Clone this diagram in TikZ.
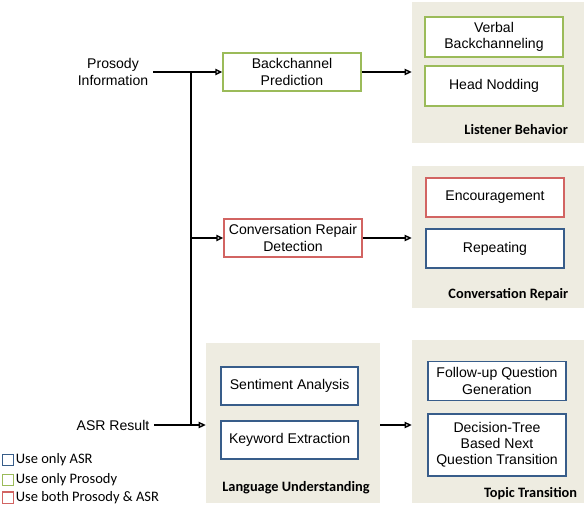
\documentclass[tikz,border=0pt]{standalone}
\usepackage{fontspec}
\setmainfont{Liberation Sans}
\newfontfamily\calibri{Carlito}
\usetikzlibrary{arrows.meta}
\definecolor{panelgray}{RGB}{238,236,225}
\definecolor{okgreen}{RGB}{155,187,89}
\definecolor{okblue}{RGB}{56,93,138}
\definecolor{okred}{RGB}{210,100,98}
\begin{document}
\begin{tikzpicture}[font=\fontsize{10}{11.5}\selectfont]
      \tikzstyle{arrow} = [line width=1pt,-{Triangle[open,length=5pt,width=4.5pt]}]
      \tikzstyle{plain} = [line width=1pt]
      \tikzstyle{panel} = [rectangle, fill=panelgray, draw=none]
      \tikzstyle{task} = [rectangle, minimum width=3.45cm, minimum height=0.95cm, text centered, align=center, fill=white, line width=1pt]
      \tikzstyle{prosodybox} = [task, draw=okgreen]
      \tikzstyle{asrbox} = [task, draw=okblue]
      \tikzstyle{bothbox} = [task, draw=okred]
      \tikzstyle{tag} = [font=\calibri\bfseries\fontsize{10.2}{11}\selectfont]
      \tikzstyle{key} = [rectangle, minimum size=0.28cm, inner sep=0pt, line width=0.8pt, fill=white]
      \useasboundingbox (0cm,0cm) rectangle (14.65cm,-12.75cm);
      % panels
      \path[] node[panel, minimum width=4.3cm, minimum height=3.525cm] (panel-LB) at (12.45cm,-1.8125cm) {};
      \path[] node[panel, minimum width=4.3cm, minimum height=3.55cm] (panel-CR) at (12.45cm,-5.925cm) {};
      \path[] node[panel, minimum width=4.35cm, minimum height=4cm] (panel-LU) at (7.325cm,-10.575cm) {};
      \path[] node[panel, minimum width=4.3cm, minimum height=4.075cm] (panel-TT) at (12.45cm,-10.5375cm) {};
      \node[tag, anchor=east] (tag-LB) at (14.32cm,-3.25cm) {Listener Behavior};
      \node[tag, anchor=east] (tag-CR) at (14.33cm,-7.375cm) {Conversation Repair};
      \node[tag] (tag-LU) at (7.4cm,-12.2cm) {Language Understanding};
      \node[tag, anchor=east] (tag-TT) at (14.55cm,-12.35cm) {Topic Transition};
      % inputs
      \node[align=center] (prosody) at (2.825cm,-1.8cm) {Prosody\\Information};
      \node (asr) at (2.825cm,-10.625cm) {ASR Result};
      \coordinate (s-top) at (4.775cm,-1.8cm);
      \coordinate (s-mid) at (4.775cm,-5.95cm);
      \coordinate (s-bot) at (4.775cm,-10.625cm);
      % tasks
      \path[] node[prosodybox] (BC) at (7.3cm,-1.8cm) {Backchannel\\Prediction};
      \path[] node[bothbox] (CRD) at (7.325cm,-5.95cm) {Conversation Repair\\Detection};
      \path[] node[prosodybox, minimum height=1cm] (VB) at (12.35cm,-0.925cm) {Verbal\\Backchanneling};
      \path[] node[prosodybox, minimum height=1cm] (HN) at (12.35cm,-2.15cm) {Head Nodding};
      \path[] node[bothbox, minimum height=0.975cm] (ENC) at (12.375cm,-4.94cm) {Encouragement};
      \path[] node[asrbox, minimum height=0.975cm] (REP) at (12.375cm,-6.21cm) {Repeating};
      \path[] node[asrbox, minimum width=3.425cm] (SA) at (7.24cm,-9.65cm) {Sentiment Analysis};
      \path[] node[asrbox, minimum width=3.425cm] (KE) at (7.24cm,-11cm) {Keyword Extraction};
      \path[] node[asrbox, minimum height=0.975cm] (FQ) at (12.425cm,-9.525cm) {Follow-up Question\\Generation};
      \path[] node[asrbox, minimum height=1.55cm] (DT) at (12.425cm,-11.125cm) {Decision-Tree\\Based Next\\Question Transition};
      % connectors
      \draw [arrow] (prosody.east) -- (BC.west);
      \draw [arrow] (asr.east) -- (asr.east -| panel-LU.west);
      \draw [plain] (s-top) -- (s-bot);
      \draw [arrow] (s-mid) -- (CRD.west);
      \draw [arrow] (BC.east) -- (BC.east -| panel-LB.west);
      \draw [arrow] (CRD.east) -- (CRD.east -| panel-CR.west);
      \draw [arrow] (asr.east -| panel-LU.east) -- (asr.east -| panel-TT.west);
      % legend
      \node[key, draw=okblue] (key-asr) at (0.2cm,-11.5cm) {};
      \node[key, draw=okgreen] (key-prosody) at (0.2cm,-12cm) {};
      \node[key, draw=okred] (key-both) at (0.2cm,-12.44cm) {};
      \node[anchor=west, font=\calibri\fontsize{10.3}{11}\selectfont, inner sep=1pt] (txt-asr) at (key-asr.east) {Use only ASR};
      \node[anchor=west, font=\calibri\fontsize{10.3}{11}\selectfont, inner sep=1pt] (txt-prosody) at (key-prosody.east) {Use only Prosody};
      \node[anchor=west, font=\calibri\fontsize{10.3}{11}\selectfont, inner sep=1pt] (txt-both) at (key-both.east) {Use both Prosody \& ASR};
  \end{tikzpicture}
\end{document}
